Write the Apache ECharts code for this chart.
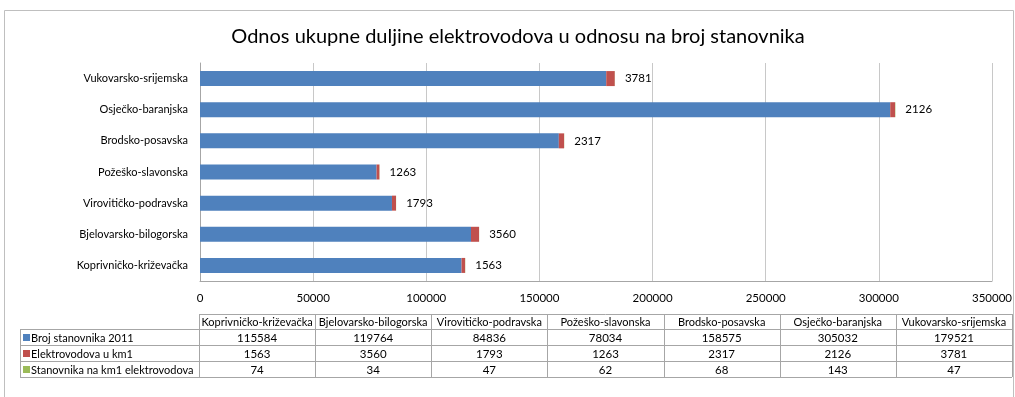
<!DOCTYPE html>
<html>
<head>
<meta charset="utf-8">
<title>Odnos ukupne duljine elektrovodova u odnosu na broj stanovnika</title>
<script src="https://cdn.jsdelivr.net/npm/echarts@6/dist/echarts.min.js"></script>
<style>
  html, body { margin: 0; padding: 0; background: #ffffff; }
  #chart { width: 1015px; height: 397px; }
</style>
</head>
<body>
<div id="chart"></div>
<script>
// Counties (bottom to top on the category axis, left to right in the table)
const categories = [
  'Koprivničko-križevačka',
  'Bjelovarsko-bilogorska',
  'Virovitičko-podravska',
  'Požeško-slavonska',
  'Brodsko-posavska',
  'Osječko-baranjska',
  'Vukovarsko-srijemska'
];
const seriesNames = ['Broj stanovnika 2011', 'Elektrovodova u km1', 'Stanovnika na km1 elektrovodova'];
const population = [115584, 119764, 84836, 78034, 158575, 305032, 179521];
const lineKm = [1563, 3560, 1793, 1263, 2317, 2126, 3781];
const perKm = [74, 34, 47, 62, 68, 143, 47];
const xTicks = [0, 50000, 100000, 150000, 200000, 250000, 300000, 350000];

const colors = ['#4F81BD', '#C0504D', '#9BBB59'];
const FONT = 'Lato, Roboto, sans-serif';
const GRID = { left: 200, right: 20, top: 63, bottom: 116 };

const chart = echarts.init(document.getElementById('chart'), null, { renderer: 'canvas' });

// Data table below the axis: header row of counties, one row per series
function buildTable() {
  const W = chart.getWidth();
  const left = GRID.left - 1, right = W - 3, legendLeft = 20;
  const headTop = 314, headH = 15, rowH = 16;
  const colW = (right - left) / categories.length;
  const rows = [population, lineKm, perKm];
  const lineStyle = { stroke: '#a6a6a6', lineWidth: 1 };
  const els = [];
  const bottom = headTop + headH + rowH * rows.length;
  const hline = (x1, x2, y) => els.push({ type: 'line', silent: true,
    shape: { x1, y1: y + 0.5, x2, y2: y + 0.5 }, style: lineStyle });
  const vline = (x, y1, y2) => els.push({ type: 'line', silent: true,
    shape: { x1: Math.round(x) + 0.5, y1, x2: Math.round(x) + 0.5, y2 }, style: lineStyle });

  hline(left, right, headTop);
  hline(legendLeft, right, headTop + headH);
  for (let r = 1; r <= rows.length; r++) hline(legendLeft, right, headTop + headH + rowH * r);
  vline(legendLeft, headTop + headH, bottom);
  for (let c = 0; c <= categories.length; c++) vline(left + colW * c, headTop, bottom);

  const txt = (x, y, text, align, size) => els.push({ type: 'text', silent: true,
    style: { x, y, text, fill: '#000', font: size + 'px ' + FONT, textAlign: align, textVerticalAlign: 'middle' } });

  categories.forEach((name, c) => txt(left + colW * (c + 0.5), headTop + headH / 2 + 1, name, 'center', 11));
  rows.forEach((vals, r) => {
    const cy = headTop + headH + rowH * (r + 0.5) + 1;
    els.push({ type: 'rect', silent: true,
      shape: { x: legendLeft + 3, y: cy - 4, width: 7, height: 7 }, style: { fill: colors[r] } });
    txt(legendLeft + 11, cy, seriesNames[r], 'left', 11);
    vals.forEach((v, c) => txt(left + colW * (c + 0.5), cy, String(v), 'center', 11.5));
  });
  return els;
}

const option = {
  animation: false,
  backgroundColor: '#ffffff',
  textStyle: { fontFamily: FONT },
  title: {
    text: 'Odnos ukupne duljine elektrovodova u odnosu na broj stanovnika',
    left: 513,
    textAlign: 'center',
    top: 22,
    textStyle: { fontFamily: FONT, fontSize: 20, fontWeight: 'normal', color: '#000' }
  },
  grid: GRID,
  xAxis: {
    type: 'value',
    min: xTicks[0],
    max: xTicks[xTicks.length - 1],
    interval: xTicks[1] - xTicks[0],
    axisLine: { show: true, lineStyle: { color: '#a6a6a6' } },
    axisTick: { show: false },
    splitLine: { show: true, lineStyle: { color: '#c8c8c8' } },
    axisLabel: { margin: 11, color: '#000', fontSize: 11.5, fontFamily: FONT,
      formatter: (v) => String(v) }
  },
  yAxis: {
    type: 'category',
    data: categories,
    axisLine: { show: true, lineStyle: { color: '#a6a6a6' } },
    axisTick: { show: false },
    axisLabel: { margin: 12, color: '#000', fontSize: 11, fontFamily: FONT }
  },
  series: [
    { name: seriesNames[0], type: 'bar', stack: 'total', data: population,
      barWidth: 15, itemStyle: { color: colors[0] } },
    { name: seriesNames[1], type: 'bar', stack: 'total', data: lineKm,
      barWidth: 15, itemStyle: { color: colors[1] } },
    { name: seriesNames[2], type: 'bar', stack: 'total', data: perKm,
      barWidth: 15, itemStyle: { color: colors[2] } }
  ]
};

// Value labels of the line-length series, placed after the end of each stacked bar
option.series[2].label = {
  show: true, position: 'right', distance: 10, color: '#000', fontSize: 11.5, fontFamily: FONT,
  formatter: (p) => String(lineKm[p.dataIndex])
};

chart.setOption(option);
chart.setOption({
  graphic: [
    { type: 'rect', silent: true, z: -1,
      shape: { x: 4.5, y: 10.5, width: chart.getWidth() - 6, height: chart.getHeight() + 10 },
      style: { fill: 'none', stroke: '#bfbfbf', lineWidth: 1 } }
  ].concat(buildTable())
});
</script>
</body>
</html>
